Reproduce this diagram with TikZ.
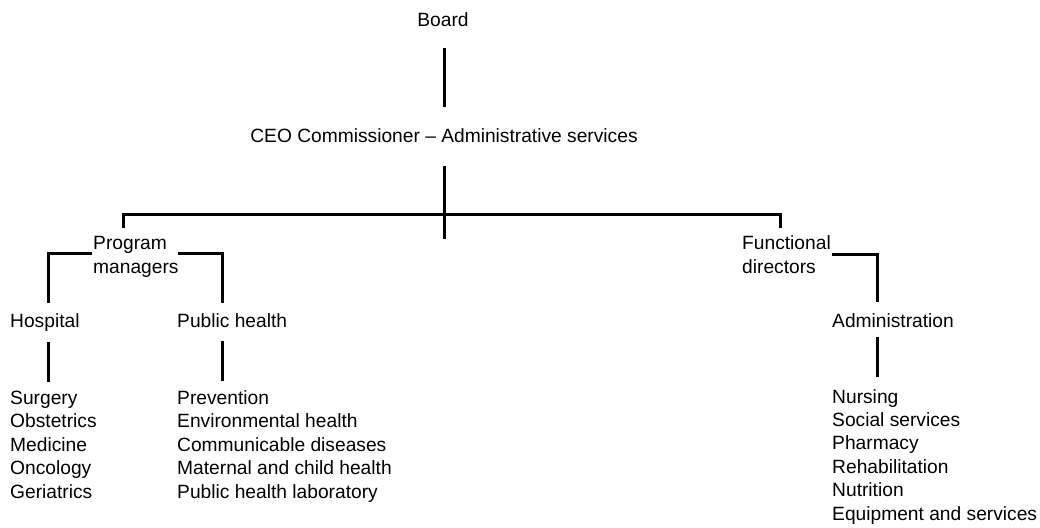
\documentclass[tikz,border=0pt]{standalone}
\usepackage{fontspec}
\setmainfont{Liberation Sans}
\usetikzlibrary{calc}
\begin{document}
\begin{tikzpicture}[x=1pt,y=-1pt,
  lbl/.style={inner sep=0pt, anchor=base west, font=\fontsize{19.2}{23.4}\selectfont, align=left},
  conn/.style={line width=3pt}]
\useasboundingbox (0,0) rectangle (1040,527);
% nodes (multi-line nodes are anchored at the baseline of their last line)
\node[lbl, anchor=base] (board) at (443,27) {Board};
\node[lbl, anchor=base] (ceo) at (444,142) {CEO Commissioner – Administrative services};
\node[lbl] (pm) at (93,273) {Program\\managers};
\node[lbl] (fd) at (742,273) {Functional\\directors};
\node[lbl] (hosp) at (10,327) {Hospital};
\node[lbl] (ph) at (177,327) {Public health};
\node[lbl] (adm) at (832,327) {Administration};
\node[lbl] (hlist) at (10,498) {Surgery\\Obstetrics\\Medicine\\Oncology\\Geriatrics};
\node[lbl] (plist) at (177,498) {Prevention\\Environmental health\\Communicable diseases\\Maternal and child health\\Public health laboratory};
\node[lbl] (alist) at (832,520) {Nursing\\Social services\\Pharmacy\\Rehabilitation\\Nutrition\\Equipment and services};
\coordinate (trunkend) at (444,239);
% connectors
\draw[conn] ($(board.base)+(1,21)$) -- ($(ceo.base)+(0,-35)$);
\draw[conn] ($(ceo.base)+(0,24)$) -- (trunkend);
\draw[conn] ($(pm.base west)+(30,-45)$) -- ++(0,-14) -| ($(fd.base west)+(38,-45)$);
\draw[conn] ($(pm.base west)+(-1,-20)$) -| ($(hosp.base west)+(38,-24)$);
\draw[conn] ($(pm.base west)+(85,-20)$) -| ($(ph.base west)+(45,-24)$);
\draw[conn] ($(fd.base west)+(90,-19)$) -| ($(adm.base west)+(45,-25)$);
\draw[conn] ($(hosp.base west)+(38,15)$) -- ($(hlist.base west)+(38,-116)$);
\draw[conn] ($(ph.base west)+(45,14)$) -- ($(plist.base west)+(45,-117)$);
\draw[conn] ($(adm.base west)+(45,10)$) -- ($(alist.base west)+(45,-143)$);
\end{tikzpicture}
\end{document}
